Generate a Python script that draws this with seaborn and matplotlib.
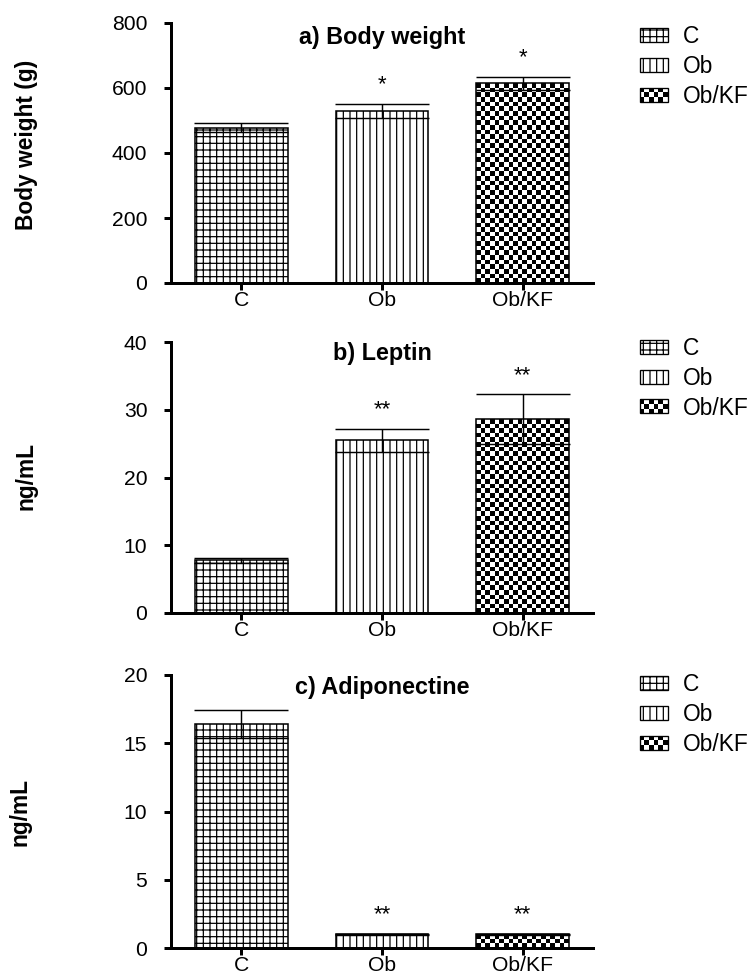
import matplotlib
matplotlib.use("Agg")
import matplotlib.pyplot as plt
from matplotlib.patches import Patch, Rectangle
from matplotlib.legend_handler import HandlerPatch
import numpy as np
import pandas as pd
import seaborn as sns

# ---------------- Data ----------------
groups = ["C", "Ob", "Ob/KF"]
hatches = ["++", "||", None]   # Ob/KF gets a checkerboard fill below

body_weight = [478, 530, 615]
body_weight_err = [13, 21, 20]
body_weight_sig = ["", "*", "*"]

leptin = [7.8, 25.5, 28.6]
leptin_err = [0.35, 1.7, 3.7]
leptin_sig = ["", "**", "**"]

adiponectine = [16.4, 1.0, 1.0]
adiponectine_err = [1.05, 0.05, 0.05]
adiponectine_sig = ["", "**", "**"]

titles = ["a) Body weight", "b) Leptin", "c) Adiponectine"]
ylabels = ["Body weight (g)", "ng/mL", "ng/mL"]
yticks_a = [0, 200, 400, 600, 800]
yticks_b = [0, 10, 20, 30, 40]
yticks_c = [0, 5, 10, 15, 20]

# ---------------- Style ----------------
sns.set_style("ticks", {"axes.edgecolor": "black", "text.color": "black",
                        "axes.labelcolor": "black", "xtick.color": "black",
                        "ytick.color": "black"})
plt.rcParams["font.family"] = ["Liberation Sans", "DejaVu Sans"]
plt.rcParams["hatch.linewidth"] = 1.1

W, H = 753, 976
CHECKER_PX = 4.65
fig = plt.figure(figsize=(W / 80, H / 80), dpi=80)


def px_rect(left, top, right, bottom):
    return [left / W, (H - bottom) / H, (right - left) / W, (bottom - top) / H]


class HandlerChecker(HandlerPatch):
    # small checkerboard box for the legend
    def create_artists(self, legend, orig_handle, xdescent, ydescent, width, height, fontsize, trans):
        x0, y0 = -xdescent, -ydescent
        nx, ny = 6, 3
        cw, ch = width / nx, height / ny
        arts = []
        for i in range(nx):
            for j in range(ny):
                if (i + j) % 2 == 0:
                    arts.append(Rectangle((x0 + i * cw, y0 + j * ch), cw, ch, facecolor="black",
                                          edgecolor="none", transform=trans))
        arts.append(Rectangle((x0, y0), width, height, facecolor="none", edgecolor="black",
                              linewidth=1.2, transform=trans))
        return arts


panels = [
    (px_rect(171, 23, 593, 283), body_weight, body_weight_err, body_weight_sig, yticks_a, 0.946, -0.315, 0.53, 0.992),
    (px_rect(171, 342, 593, 613), leptin, leptin_err, leptin_sig, yticks_b, 0.959, -0.317, 0.505, 1.019),
    (px_rect(171, 675, 593, 948), adiponectine, adiponectine_err, adiponectine_sig, yticks_c, 0.956, -0.33, 0.5, 1.007),
]

for i, (rect, values, errs, sig, yticks, title_y, lab_x, lab_y, leg_y) in enumerate(panels):
    ax = fig.add_axes(rect)
    df = pd.DataFrame({"group": groups, "value": values})
    sns.barplot(data=df, x="group", y="value", color="white", saturation=1,
                edgecolor="black", linewidth=1.4, width=0.66, errorbar=None, ax=ax)
    for bar, h in zip(ax.patches, hatches):
        bar.set_hatch(h)

    ax.set_xlim(-0.5, 2.5)
    ax.set_ylim(yticks[0], yticks[-1])

    # checkerboard texture for Ob/KF
    bar = ax.patches[2]
    x0, x1 = bar.get_x(), bar.get_x() + bar.get_width()
    y0, y1 = bar.get_y(), bar.get_y() + bar.get_height()
    (px0, py0), (px1, py1) = ax.transData.transform([(x0, y0), (x1, y1)])
    nx = max(1, round((px1 - px0) / CHECKER_PX))
    ny = max(1, round((py1 - py0) / CHECKER_PX))
    board = np.indices((ny, nx)).sum(axis=0) % 2
    ax.imshow(board, cmap="gray", vmin=0, vmax=1, extent=(x0, x1, y0, y1), origin="lower",
              aspect="auto", interpolation="nearest", zorder=1.5)
    bar.set_facecolor("none")
    bar.set_zorder(2)
    ax.set_xlim(-0.5, 2.5)
    ax.set_ylim(yticks[0], yticks[-1])

    ax.errorbar(groups, values, yerr=errs, fmt="none", ecolor="black",
                elinewidth=1.3, capsize=42, capthick=1.3, zorder=5)

    for g, v, e, s in zip(groups, values, errs, sig):
        if s:
            ax.annotate(s, (g, v + e), xytext=(0, 7.5), textcoords="offset points",
                        ha="center", va="bottom", fontsize=20)

    ax.set_yticks(yticks)
    sns.despine(ax=ax)
    for side in ["left", "bottom"]:
        ax.spines[side].set_linewidth(2.7)
    ax.tick_params(axis="y", length=6.3, width=2.7, pad=15, labelsize=19)
    ax.tick_params(axis="x", length=6, width=2.7, pad=1, labelsize=19)

    ax.set_xlabel("")
    ax.set_ylabel(ylabels[i], fontsize=20.5, fontweight="bold")
    ax.yaxis.set_label_coords(lab_x, lab_y)

    ax.text(0.5, title_y, titles[i], transform=ax.transAxes, ha="center", va="center",
            fontsize=21, fontweight="bold")

    handles = [Patch(facecolor="white", edgecolor="black", hatch=h, linewidth=1.2) for h in hatches]
    ax.legend(handles, groups, loc="upper left", bbox_to_anchor=(1.111, leg_y), frameon=False,
              borderpad=0, borderaxespad=0, fontsize=20.5, handlelength=1.22, handleheight=0.57,
              handletextpad=0.65, labelspacing=0.3, handler_map={handles[2]: HandlerChecker()})

fig.savefig("out.png", dpi=80)
